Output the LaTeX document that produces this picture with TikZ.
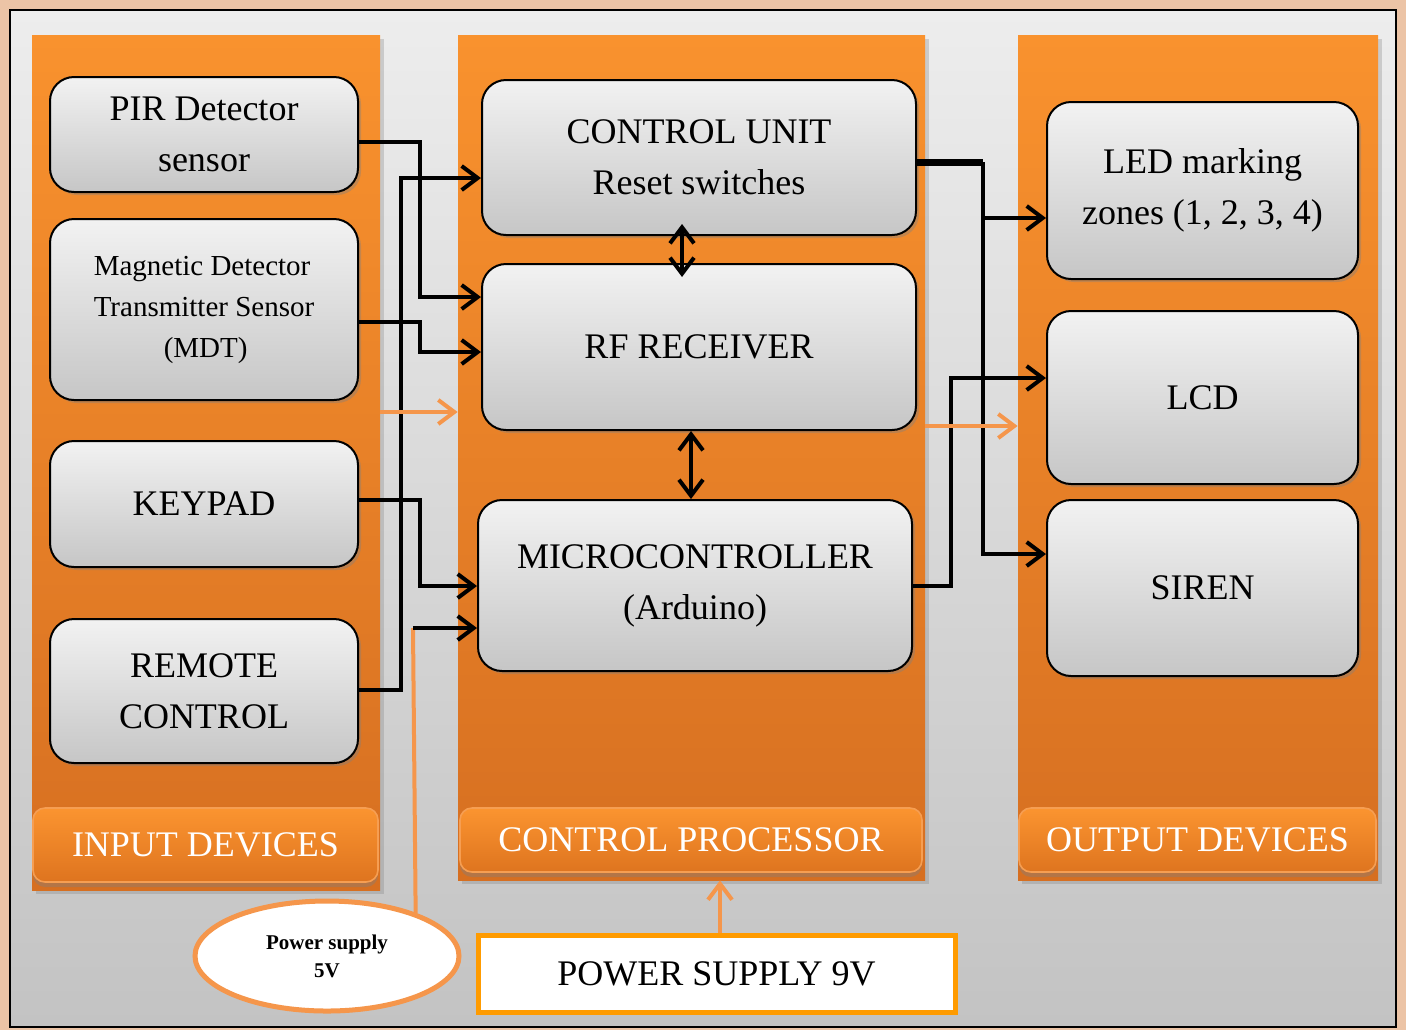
\documentclass[tikz,border=0pt]{standalone}
\usepackage{fontspec}
\setmainfont{Liberation Serif}
\usetikzlibrary{arrows.meta,shapes.geometric,shadows}

\definecolor{frameGlow}{RGB}{236,196,166}
\definecolor{bgTop}{RGB}{237,237,237}
\definecolor{bgBot}{RGB}{195,195,195}
\definecolor{panelTop}{RGB}{249,146,46}
\definecolor{panelBot}{RGB}{214,111,33}
\definecolor{labTop}{RGB}{251,148,48}
\definecolor{labBot}{RGB}{222,116,31}
\definecolor{labBorder}{RGB}{246,158,82}
\definecolor{boxTop}{RGB}{242,242,242}
\definecolor{boxBot}{RGB}{198,198,198}
\definecolor{wireOrange}{RGB}{245,150,75}
\definecolor{psOrange}{RGB}{255,155,0}

\begin{document}
\begin{tikzpicture}[x=0.5pt, y=-0.5pt, >={Straight Barb[length=8pt,width=12pt]}]
\tikzset{panel/.style={rectangle, inner sep=0, top color=panelTop, bottom color=panelBot, drop shadow={shadow xshift=2pt, shadow yshift=-2pt, opacity=0.3}},
  grouplab/.style={rectangle, rounded corners=6pt, draw=labBorder, line width=0.8pt, top color=labTop, bottom color=labBot, text=white, inner sep=0, font=\fontsize{18}{22}\selectfont, drop shadow={shadow xshift=0pt, shadow yshift=-2.5pt, opacity=0.4}},
  gbox/.style={rectangle, rounded corners=12pt, draw=black, line width=1pt, top color=boxTop, bottom color=boxBot, align=center, inner sep=2pt, font=\fontsize{18}{25.5}\selectfont, drop shadow={shadow xshift=1.5pt, shadow yshift=-1.5pt, opacity=0.4}},
  wire/.style={draw=black, line width=2pt},
  owire/.style={draw=wireOrange, line width=2pt}}
\useasboundingbox (0,0) rectangle (1406,1030);
%% frame
\fill[frameGlow] (0,0) rectangle (1406,1030);
\draw[black, line width=0.8pt, top color=bgTop, bottom color=bgBot] (10,10) rectangle (1396,1027);

%% column grid
\def \xin {204}
\def \xctl {699}
\def \xout {1202.5}
\def \ylab {840}

%% panels
\node [panel, minimum width=174pt, minimum height=427.5pt] (inpanel) at (206,462.5) {};
\node [panel, minimum width=233.5pt, minimum height=422.5pt] (ctrlpanel) at (691.5,457.5) {};
\node [panel, minimum width=180pt, minimum height=422.5pt] (outpanel) at (1198,457.5) {};
\node [grouplab, minimum width=172.5pt, minimum height=37pt] (inlab) at (205.5,845) {INPUT DEVICES};
\node [grouplab, minimum width=231pt, minimum height=32pt] (ctrllab) at (691,\ylab) {CONTROL PROCESSOR};
\node [grouplab, minimum width=178.5pt, minimum height=32pt] (outlab) at (1197.5,\ylab) {OUTPUT DEVICES};

%% input devices
\node [gbox, minimum width=154pt, minimum height=57.5pt] (pir) at (\xin,134.5) {PIR Detector\\sensor};
\node [gbox, minimum width=154pt, minimum height=90.5pt, align=left, font=\fontsize{14.5}{20.5}\selectfont] (mdt) at (\xin,309.5) {Magnetic Detector\\Transmitter Sensor\\\hspace*{35pt}(MDT)};
\node [gbox, minimum width=154pt, minimum height=63pt] (keypad) at (\xin,504) {KEYPAD};
\node [gbox, minimum width=154pt, minimum height=72pt] (remote) at (\xin,691) {REMOTE\\CONTROL};

%% control processor
\node [gbox, minimum width=217pt, minimum height=77.5pt] (cu) at (\xctl,157.5) {CONTROL UNIT\\Reset switches};
\node [gbox, minimum width=217pt, minimum height=83pt] (rf) at (\xctl,347) {RF RECEIVER};
\node [gbox, minimum width=217pt, minimum height=85.5pt] (micro) at (695,585.5) {MICROCONTROLLER\\(Arduino)};

%% output devices
\node [gbox, minimum width=155.5pt, minimum height=88.5pt] (led) at (\xout,190.5) {LED marking\\zones (1, 2, 3, 4)};
\node [gbox, minimum width=155.5pt, minimum height=86.5pt] (lcd) at (\xout,397.5) {LCD};
\node [gbox, minimum width=155.5pt, minimum height=88pt] (siren) at (\xout,588) {SIREN};

%% power supplies
\node [ellipse, draw=wireOrange, line width=2.5pt, fill=white, minimum width=132pt, minimum height=55pt, inner sep=0, align=center, font=\fontsize{10.5}{14}\selectfont\bfseries] (ps5) at (327,956) {Power supply\\5V};
\node [rectangle, draw=psOrange, line width=2.5pt, fill=white, minimum width=238.5pt, minimum height=38.5pt, font=\fontsize{18}{22}\selectfont] (ps9) at (716.5,973.5) {POWER SUPPLY 9V};

% inputs to control processor
\draw [wire,->] (pir.east |- 0,142) -| (420,297) -- (rf.west |- 0,297);
\draw [wire,->] (mdt.east |- 0,322) -| (420,352) -- (rf.west |- 0,352);
\draw [wire,->] (keypad.east |- 0,500) -| (420,586) -- (micro.west |- 0,586);
\draw [wire,->] (remote.east |- 0,690) -| (401,178) -- (cu.west |- 0,178);
\coordinate (pstap) at (413,628);
\draw [owire] (ps5.26) -- (pstap);
\draw [wire,->] (pstap) -- (micro.west |- pstap);

% inside control processor
\draw [wire,<->, shorten <=-6pt, shorten >=-7pt] (cu.south -| 682,0) -- (rf.north -| 682,0);
\draw [wire,<->] (rf.south -| 691,0) -- (micro.north -| 691,0);

% control processor to outputs
\coordinate (cujoin) at (983,162);
\draw [wire, line width=3.5pt] (cu.east |- cujoin) -- (cujoin);
\draw [wire,->] (cujoin) |- (siren.west |- 0,554);
\draw [wire,->] (983,218) -- (led.west |- 0,218);
\draw [wire,->] (micro.east |- 0,586) -| (951,378) -- (lcd.west |- 0,378);

% orange flow arrows
\draw [owire,->] (inpanel.east |- 0,412) -- (ctrlpanel.west |- 0,412);
\draw [owire,->] (ctrlpanel.east |- 0,426) -- (outpanel.west |- 0,426);
\draw [owire,->] (ps9.north -| 720,0) -- (ctrlpanel.south -| 720,0);
\end{tikzpicture}
\end{document}
